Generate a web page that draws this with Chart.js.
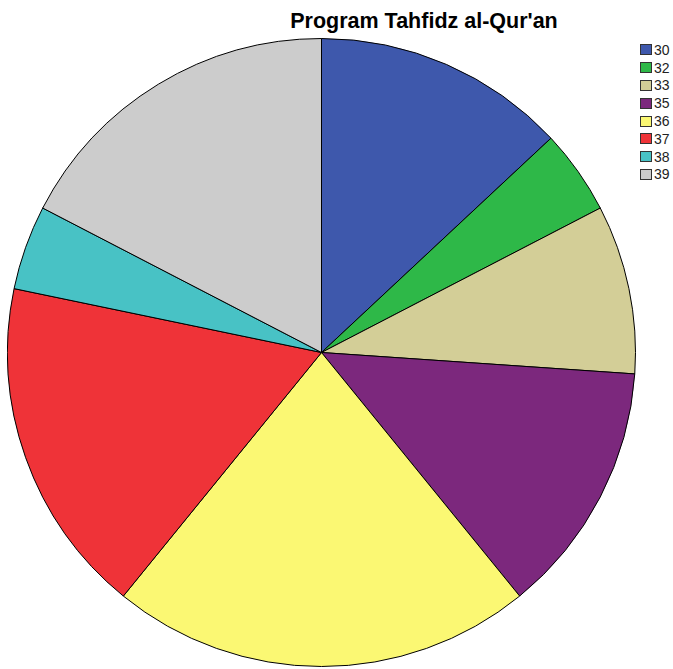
<!DOCTYPE html>
<html>
<head>
<meta charset="utf-8">
<script src="https://cdn.jsdelivr.net/npm/chart.js@4/dist/chart.umd.min.js"></script>
<style>
  body { margin: 0; background: #fff; width: 673px; height: 669px; position: relative; overflow: hidden; font-family: "Liberation Sans", Arial, sans-serif; }
  #title { position: absolute; left: 0; top: 9px; width: 848px; text-align: center; font-weight: bold; font-size: 21.5px; color: #000; }
  #wrap { position: absolute; left: 7px; top: 38px; width: 629px; height: 629px; }
  #legend { position: absolute; left: 640px; top: 41px; font-size: 14px; color: #222; }
  .item { height: 17.8px; display: flex; align-items: center; }
  .box { width: 12px; height: 11px; border: 1px solid #333; margin-right: 2px; box-sizing: border-box; }
</style>
</head>
<body>
<div id="title">Program Tahfidz al-Qur'an</div>
<div id="wrap"><canvas id="pieChart" width="629" height="629"></canvas></div>
<div id="legend"></div>
<script>
  const labels = ['30', '32', '33', '35', '36', '37', '38', '39'];
  const counts = [3, 1, 2, 3, 5, 4, 1, 4];
  const colors = ['#3e58ac', '#2eb848', '#d3ce97', '#7c287d', '#fbf873', '#ef3338', '#48c2c5', '#cccccc'];

  // legend on the right, one row per category
  const legend = document.getElementById('legend');
  labels.forEach((lab, i) => {
    const row = document.createElement('div');
    row.className = 'item';
    row.innerHTML = `<span class="box" style="background:${colors[i]}"></span>${lab}`;
    legend.appendChild(row);
  });

  const pieChart = new Chart(document.getElementById('pieChart').getContext('2d'), {
    type: 'pie',
    data: {
      labels: labels,
      datasets: [{
        data: counts,
        backgroundColor: colors,
        borderColor: '#000',
        borderWidth: 1
      }]
    },
    options: {
      responsive: false,
      animation: false,
      layout: { padding: 0 },
      plugins: {
        legend: { display: false },
        tooltip: { enabled: false }
      }
    }
  });
</script>
</body>
</html>
